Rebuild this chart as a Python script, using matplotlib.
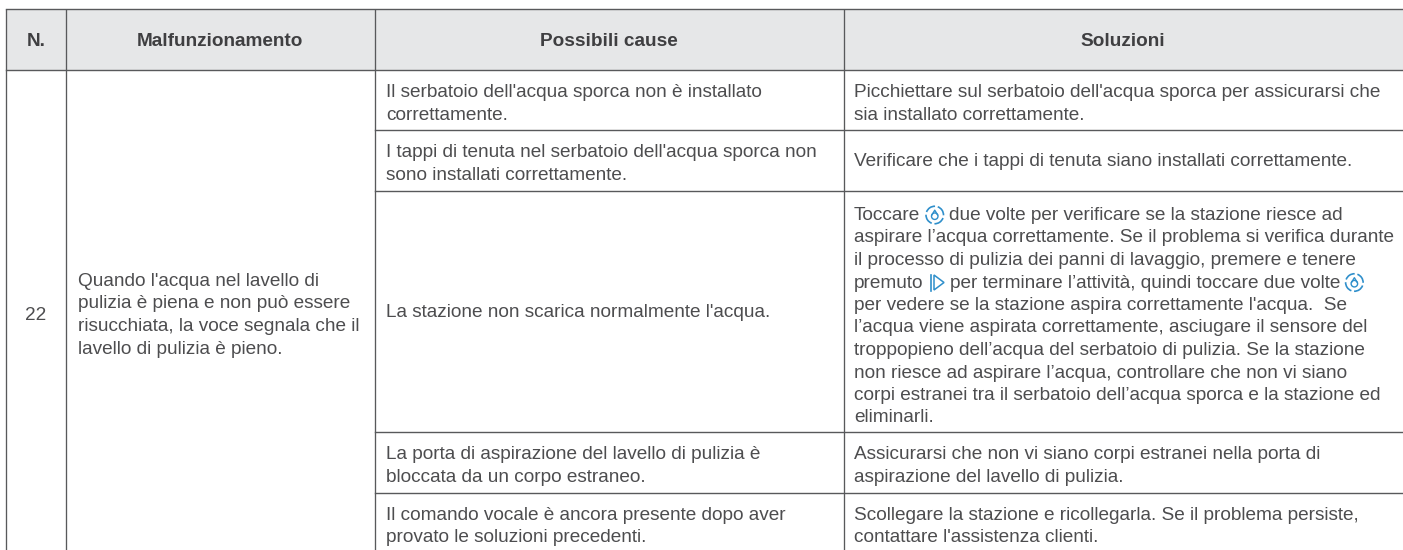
import matplotlib
matplotlib.use("Agg")
import matplotlib.pyplot as plt
from matplotlib.patches import Polygon, Arc, Ellipse

plt.rcParams["font.family"] = ["Liberation Sans", "DejaVu Sans"]

# table content
headers = ["N.", "Malfunzionamento", "Possibili cause", "Soluzioni"]
number = "22"
problem = [
    "Quando l'acqua nel lavello di",
    "pulizia è piena e non può essere",
    "risucchiata, la voce segnala che il",
    "lavello di pulizia è pieno.",
]
causes = [
    ["Il serbatoio dell'acqua sporca non è installato", "correttamente."],
    ["I tappi di tenuta nel serbatoio dell'acqua sporca non", "sono installati correttamente."],
    ["La stazione non scarica normalmente l'acqua."],
    ["La porta di aspirazione del lavello di pulizia è", "bloccata da un corpo estraneo."],
    ["Il comando vocale è ancora presente dopo aver", "provato le soluzioni precedenti."],
]
# DROP / PLAY mark where the blue icons sit in the line
DROP = "<drop>"
PLAY = "<play>"
solutions = [
    ["Picchiettare sul serbatoio dell'acqua sporca per assicurarsi che", "sia installato correttamente."],
    ["Verificare che i tappi di tenuta siano installati correttamente."],
    [
        ["Toccare", DROP, "due volte per verificare se la stazione riesce ad"],
        "aspirare l’acqua correttamente. Se il problema si verifica durante",
        "il processo di pulizia dei panni di lavaggio, premere e tenere",
        ["premuto", PLAY, "per terminare l’attività, quindi toccare due volte", DROP],
        "per vedere se la stazione aspira correttamente l'acqua.  Se",
        "l’acqua viene aspirata correttamente, asciugare il sensore del",
        "troppopieno dell’acqua del serbatoio di pulizia. Se la stazione",
        "non riesce ad aspirare l’acqua, controllare che non vi siano",
        "corpi estranei tra il serbatoio dell’acqua sporca e la stazione ed",
        "eliminarli.",
    ],
    ["Assicurarsi che non vi siano corpi estranei nella porta di", "aspirazione del lavello di pulizia."],
    ["Scollegare la stazione e ricollegarla. Se il problema persiste,", "contattare l'assistenza clienti."],
]

# layout in pixels
W, H = 1403, 550
col_x = [6, 66, 374.5, 843.5]
head_top, head_bot = 9, 69.5
row_y = [69.5, 130, 190.7, 432, 493, 550]
FS = 13.65
STEP = 22.5
TXT = "#4d4d4f"
LINE = "#58595b"
BLUE = "#2f8fcb"

fig = plt.figure(figsize=(W / 100, H / 100), dpi=100)
ax = fig.add_axes([0, 0, 1, 1])
ax.set_xlim(0, W)
ax.set_ylim(H, 0)
ax.axis("off")

# header band and grid
ax.fill_between([col_x[0], W], head_top, head_bot, color="#e6e7e8", lw=0)
for x in col_x:
    ax.plot([x, x], [head_top, H], color=LINE, lw=0.95, solid_capstyle="butt")
ax.plot([col_x[0], W], [head_top, head_top], color=LINE, lw=1.0)
ax.plot([col_x[0], W], [head_bot, head_bot], color=LINE, lw=1.0)
for y in row_y[1:-1]:
    ax.plot([col_x[2], W], [y, y], color=LINE, lw=1.0)

head_x = [36, 220, 609, 1123]
for x, label in zip(head_x, headers):
    ax.text(x, 46, label, fontsize=FS, fontweight="bold", color="#3f3f41", ha="center", va="baseline")

ax.text(36, 320, number, fontsize=FS, color=TXT, ha="center", va="baseline")
for i, line in enumerate(problem):
    ax.text(78, 286 + i * STEP, line, fontsize=FS, color=TXT, va="baseline")


def draw_drop(cx, cy):
    for start in (20, 110, 200, 290):
        ax.add_patch(Arc((cx, cy), 17.5, 17.5, theta1=start, theta2=start + 72, color=BLUE, lw=1.2))
    ax.add_patch(Ellipse((cx, cy + 1.2), 6.5, 6.5, fill=False, ec=BLUE, lw=1.0))
    ax.plot([cx - 2.8, cx, cx + 2.8], [cy - 0.2, cy - 4.8, cy - 0.2], color=BLUE, lw=1.0)


def draw_play(x, cy):
    ax.plot([x, x], [cy - 8, cy + 8], color=BLUE, lw=1.2)
    ax.add_patch(Polygon([(x + 3, cy - 7.5), (x + 13, cy), (x + 3, cy + 7.5)], fill=False, ec=BLUE, lw=1.1))


def draw_line(x, y, line):
    if isinstance(line, str):
        ax.text(x, y, line, fontsize=FS, color=TXT, va="baseline")
        return
    renderer = fig.canvas.get_renderer()
    for part in line:
        if part == DROP:
            draw_drop(x + 10.5, y - 5)
            x += 25
        elif part == PLAY:
            draw_play(x + 3.5, y - 5)
            x += 22
        else:
            t = ax.text(x, y, part, fontsize=FS, color=TXT, va="baseline")
            x = t.get_window_extent(renderer).x1 + 4


# first baseline of every body row
first_base = [97, 157, 220, 459, 520]
for k, (base, cell) in enumerate(zip(first_base, causes)):
    if len(cell) == 1:
        base = 0.5 * (row_y[k] + row_y[k + 1]) + 6
    for i, line in enumerate(cell):
        ax.text(386, base + i * STEP, line, fontsize=FS, color=TXT, va="baseline")
for k, (base, cell) in enumerate(zip(first_base, solutions)):
    if len(cell) == 1:
        base = 0.5 * (row_y[k] + row_y[k + 1]) + 6
    for i, line in enumerate(cell):
        draw_line(854, base + i * STEP, line)

fig.savefig("out.png", dpi=100)
